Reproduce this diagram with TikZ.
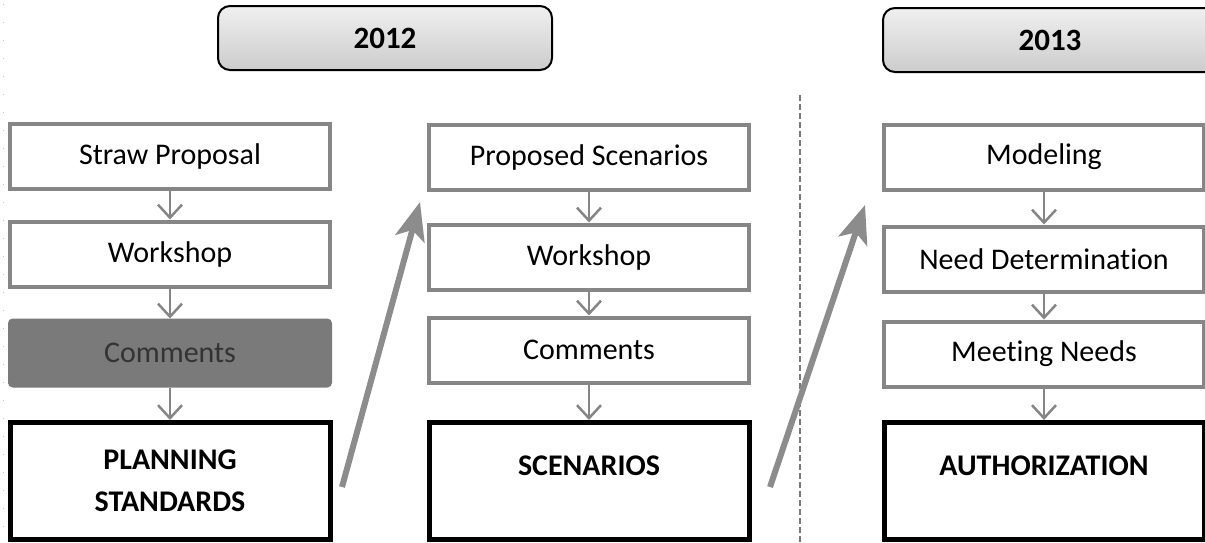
\documentclass[tikz,border=0pt]{standalone}
\usepackage{fontspec}
\setmainfont{Carlito}[Ligatures=NoCommon]
\usetikzlibrary{arrows.meta}
\definecolor{boxgray}{HTML}{868686}
\definecolor{darkfill}{HTML}{7A7A7A}
\definecolor{arrowgray}{HTML}{8C8C8C}
\definecolor{sepgray}{HTML}{7A7A7A}
\begin{document}
\begin{tikzpicture}[x=1pt,y=-1pt,
  every node/.style={font=\fontsize{30}{42}\selectfont},
  stepbox/.style={draw=boxgray, line width=4pt, fill=white,
    minimum width=320pt, minimum height=65pt, inner sep=0pt},
  darkbox/.style={stepbox, draw=darkfill, fill=darkfill, rounded corners=3pt,
    text=black!80},
  resultbox/.style={draw=black, line width=5pt, fill=white,
    minimum width=320pt, minimum height=117pt, inner sep=0pt},
  resulttext/.style={font=\fontsize{30}{42}\selectfont\bfseries, align=center},
  yearbox/.style={draw=black, line width=2pt, rounded corners=12pt,
    top color=gray!12, bottom color=gray!40, minimum width=334pt,
    minimum height=64pt, font=\fontsize{31}{35}\selectfont\bfseries},
  flow/.style={draw=boxgray, line width=2pt,
    -{Straight Barb[length=13pt,width=24pt,line width=2.5pt]}},
  phase/.style={draw=arrowgray, line width=6pt,
    -{Stealth[length=38pt,width=30pt,inset=9pt]}},
  divider/.style={draw=sepgray, line width=2pt, dash pattern=on 6pt off 3pt},
]
\useasboundingbox (0,0) rectangle (1205,542);
\clip (0,0) rectangle (1205,542);

% faint page-edge dots
\draw[gray!45, line width=1pt, dash pattern=on 1pt off 17pt] (3,4) -- (3,542);

% year headers
\node[yearbox] (y12) at (385,38) {2012};
\node[yearbox] (y13) at (1050,40) {2013};

% divider between the years
\draw[divider] (800,95) -- (800,542);

% column 1: planning standards
\node[stepbox] (sp)  at (170,156) {Straw Proposal};
\node[stepbox] (ws1) at (170,254) {Workshop};
\node[darkbox] (cm1) at (170,353) {Comments};
\node[resultbox] (ps) at (170,481) {};
\node[resulttext] (pst) at (170,481) {PLANNING\\STANDARDS};

% column 2: scenarios
\node[stepbox] (prs) at (589,157) {Proposed Scenarios};
\node[stepbox] (ws2) at (589,257) {Workshop};
\node[stepbox] (cm2) at (589,350) {Comments};
\node[resultbox] (sc) at (589,481) {};
\node[resulttext] (sct) at (589,466) {SCENARIOS};

% column 3: authorization
\node[stepbox] (mo) at (1044,157) {Modeling};
\node[stepbox] (nd) at (1044,259) {Need Determination};
\node[stepbox] (mn) at (1044,354) {Meeting Needs};
\node[resultbox] (au) at (1044,481) {};
\node[resulttext] (aut) at (1044,466) {AUTHORIZATION};

% flow inside each column
\draw[flow] (sp) -- (ws1);
\draw[flow] (ws1) -- (cm1);
\draw[flow] (cm1) -- (ps);
\draw[flow] (prs) -- (ws2);
\draw[flow] (ws2) -- (cm2);
\draw[flow] (cm2) -- (sc);
\draw[flow] (mo) -- (nd);
\draw[flow] (nd) -- (mn);
\draw[flow] (mn) -- (au);

% phase transitions
\coordinate (p1s) at (342,487);
\coordinate (p1e) at (420,202);
\coordinate (p2s) at (770,487);
\coordinate (p2e) at (865,205);
\draw[phase] (p1s) -- (p1e);
\draw[phase] (p2s) -- (p2e);
\end{tikzpicture}
\end{document}
